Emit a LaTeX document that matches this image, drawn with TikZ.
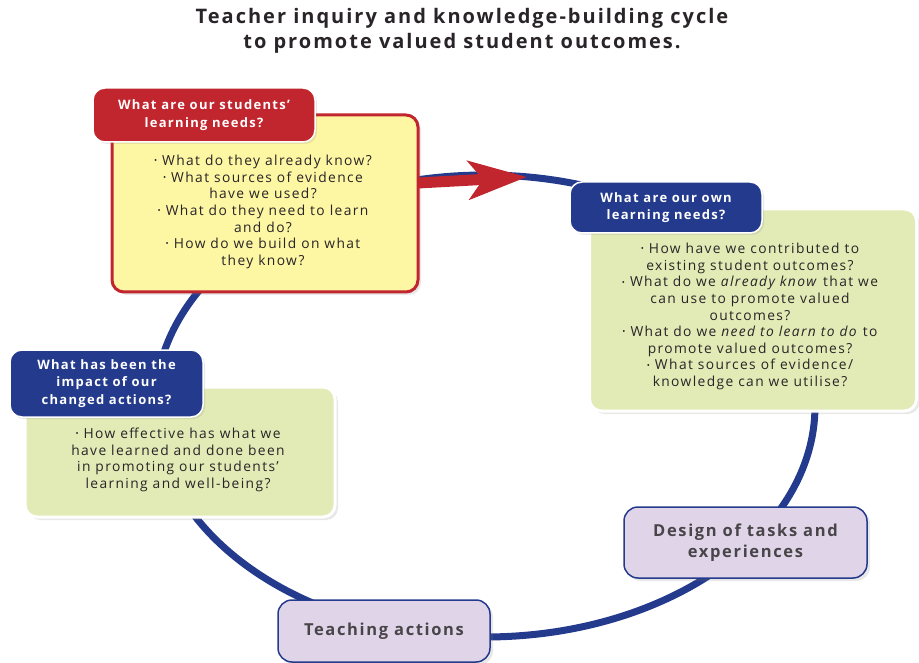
\documentclass[tikz,border=0pt]{standalone}
\usepackage{fontspec}
\setmainfont[LetterSpace=10]{Open Sans}
\usetikzlibrary{arrows.meta,shadows}

\definecolor{cycleblue}{RGB}{36,58,140}
\definecolor{inqred}{RGB}{193,37,45}
\definecolor{inqyellow}{RGB}{253,246,163}
\definecolor{inqgreen}{RGB}{226,235,181}
\definecolor{inqlilac}{RGB}{224,213,232}
\definecolor{inqtext}{RGB}{40,36,40}

\newcommand{\qbul}{\raisebox{0.25ex}{\scalebox{0.6}{•}}\ }

\tikzset{
  body/.style={rounded corners=12pt, line width=3pt,
    drop shadow={opacity=0.18, shadow xshift=3pt, shadow yshift=-3pt}},
  yellowbody/.style={body, draw=inqred, fill=inqyellow},
  greenbody/.style={body, draw=white, fill=inqgreen},
  tab/.style={rounded corners=12pt, draw=white, line width=1.5pt, text=white,
    align=center, font=\fontsize{13}{17.5}\selectfont\bfseries,
    drop shadow={opacity=0.18, shadow xshift=2pt, shadow yshift=-2pt}},
  redtab/.style={tab, fill=inqred},
  bluetab/.style={tab, fill=cycleblue},
  bodytext/.style={align=center, text=inqtext, inner sep=0pt,
    font=\fontsize{13.8}{16.6}\selectfont},
  stagebox/.style={rounded corners=14pt, draw=cycleblue, line width=1.5pt,
    fill=inqlilac, align=center, text=inqtext!85,
    font=\fontsize{16.5}{21}\selectfont\bfseries,
    drop shadow={opacity=0.18, shadow xshift=3pt, shadow yshift=-3pt}},
}

\begin{document}
\begin{tikzpicture}[x=1pt,y=-1pt]
  \useasboundingbox (0,0) rectangle (919,663);

  % title
  \node[align=center, text=inqtext, font=\fontsize{20}{25}\selectfont\bfseries]
    (title) at (462,31) {Teacher inquiry and knowledge-building cycle\\to promote valued student outcomes.};

  % the cycle
  \draw[cycleblue, line width=7pt] (485,406) ellipse [x radius=330pt, y radius=231pt];

  % students' needs
  \node[yellowbody, minimum width=306pt, minimum height=177pt] (needsbox) at (265,203.5) {};
  \coordinate (arrowstart) at (418,183);
  \coordinate (arrowend) at (527,177);
  \draw[inqred, line width=11pt, -{Stealth[length=58pt,width=38pt,inset=14pt]}]
    (arrowstart) -- (arrowend);
  \node[redtab, minimum width=222pt, minimum height=54pt] (needstab) at (204,115)
    {What are our students'\\learning needs?};
  \node[bodytext] (needstext) at (263,212)
    {\qbul What do they already know?\\
     \qbul What sources of evidence\\have we used?\\
     \qbul What do they need to learn\\and do?\\
     \qbul How do we build on what\\they know?};

  % our own needs
  \node[greenbody, minimum width=327pt, minimum height=202pt] (ownbox) at (753,310) {};
  \node[bluetab, minimum width=192pt, minimum height=51pt] (owntab) at (666,207.5)
    {What are our own\\learning needs?};
  \node[bodytext] (owntext) at (750,316.5)
    {\qbul How have we contributed to\\existing student outcomes?\\
     \qbul What do we \textit{already know} that we\\can use to promote valued\\outcomes?\\
     \qbul What do we \textit{need to learn to do} to\\promote valued outcomes?\\
     \qbul What sources of evidence/\\knowledge can we utilise?};

  % stages
  \node[stagebox, minimum width=243pt, minimum height=71pt] (design) at (745.5,542.5)
    {Design of tasks and\\experiences};
  \node[stagebox, minimum width=212pt, minimum height=62pt] (teaching) at (384,631)
    {Teaching actions};

  % impact
  \node[greenbody, minimum width=310pt, minimum height=130pt] (impactbox) at (180,452) {};
  \node[bluetab, minimum width=193pt, minimum height=67pt] (impacttab) at (106.5,383.5)
    {What has been the\\impact of our\\changed actions?};
  \node[bodytext] (impacttext) at (178,460)
    {\qbul How effective has what we\\have learned and done been\\in promoting our students'\\learning and well-being?};
\end{tikzpicture}
\end{document}
